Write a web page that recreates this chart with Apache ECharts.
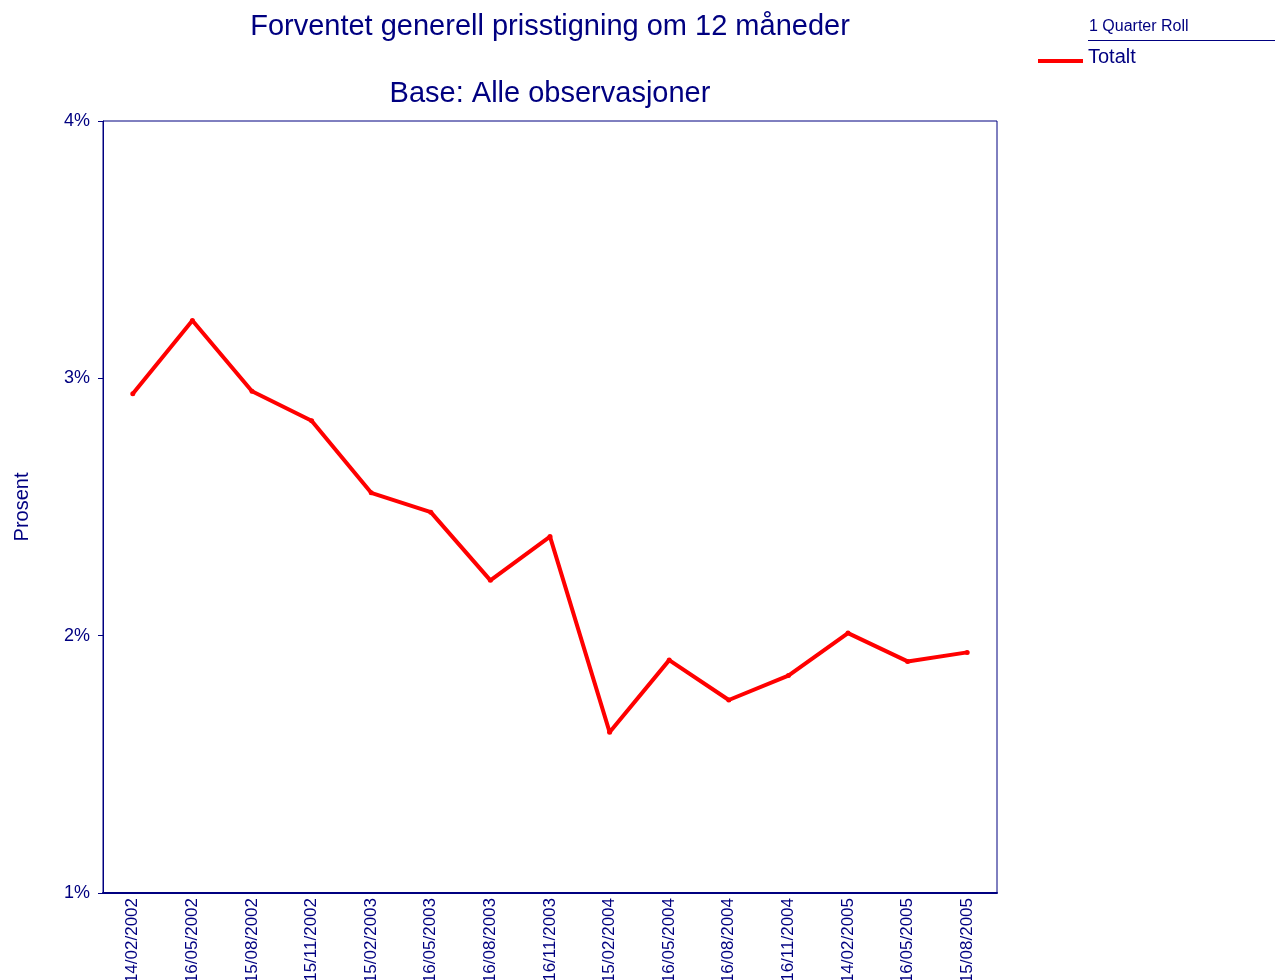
<!DOCTYPE html>
<html>
<head>
<meta charset="utf-8">
<script src="https://cdn.jsdelivr.net/npm/echarts@6/dist/echarts.min.js"></script>
<style>
  html, body { margin: 0; padding: 0; background: #fff; }
  #main { width: 1275px; height: 980px; }
</style>
</head>
<body>
<div id="main"></div>
<script>
// datoer (x-akse)
var dates = ['14/02/2002', '16/05/2002', '15/08/2002', '15/11/2002', '15/02/2003',
  '16/05/2003', '16/08/2003', '16/11/2003', '15/02/2004', '16/05/2004',
  '16/08/2004', '16/11/2004', '14/02/2005', '16/05/2005', '15/08/2005'];
// Totalt, prosent
var totalt = [2.94, 3.225, 2.95, 2.835, 2.555, 2.48, 2.215, 2.385, 1.625, 1.905,
  1.75, 1.845, 2.01, 1.9, 1.935];
var yTicks = [1, 2, 3, 4];

var navy = '#000080';
var font = 'Liberation Sans, Arial, sans-serif';

var chartDom = document.getElementById('main');
var myChart = echarts.init(chartDom);

var option = {
  backgroundColor: '#fff',
  animation: false,
  textStyle: { fontFamily: font },
  title: [
    {
      text: 'Forventet generell prisstigning om 12 måneder',
      left: 545, top: 7, textAlign: 'center',
      textStyle: { color: navy, fontSize: 29, fontWeight: 'normal', fontFamily: font },
    },
    {
      text: 'Base: Alle observasjoner',
      left: 545, top: 74, textAlign: 'center',
      textStyle: { color: navy, fontSize: 29, fontWeight: 'normal', fontFamily: font },
    },
  ],
  legend: {
    data: ['Totalt'],
    left: 1033, top: 42,
    itemWidth: 45, itemHeight: 4,
    icon: 'rect',
    formatter: '{a|{name}}',
    textStyle: {
      color: navy, fontSize: 20, fontFamily: font,
      rich: { a: { color: navy, fontSize: 20, fontFamily: font, padding: [0, 0, 8, 0] } },
    },
  },
  graphic: [
    {
      type: 'text', left: 1089, top: 19,
      style: { text: '1 Quarter Roll', fill: navy, fontSize: 16, fontFamily: font },
    },
    {
      type: 'line',
      shape: { x1: 1088, y1: 40.5, x2: 1275, y2: 40.5 },
      style: { stroke: navy, lineWidth: 1 },
    },
  ],
  grid: {
    left: 103, right: 278, top: 121, bottom: 87,
    containLabel: false,
    outerBoundsMode: 'none',
    show: true, borderColor: navy, borderWidth: 1,
  },
  xAxis: {
    type: 'category',
    data: dates,
    boundaryGap: true,
    axisLine: { lineStyle: { color: navy, width: 2 } },
    axisTick: { alignWithLabel: true, length: 5, lineStyle: { color: navy } },
    axisLabel: { rotate: 90, color: navy, fontSize: 17, margin: 5, fontFamily: font, padding: [0, 0, 6, 0] },
  },
  yAxis: {
    type: 'value',
    min: yTicks[0], max: yTicks[yTicks.length - 1], interval: 1,
    name: 'Prosent',
    nameLocation: 'middle',
    nameGap: 71,
    nameTextStyle: { color: navy, fontSize: 20, fontFamily: font },
    axisLine: { show: true, lineStyle: { color: navy, width: 1 } },
    axisTick: { show: true, length: 5, lineStyle: { color: navy } },
    axisLabel: {
      color: navy, fontSize: 18, margin: 12, formatter: '{value}%', fontFamily: font,
      padding: [4, 1, 0, 0],
    },
    splitLine: { show: false },
  },
  series: [
    {
      name: 'Totalt',
      type: 'line',
      data: totalt,
      color: '#ff0000',
      lineStyle: { width: 4 },
      symbol: 'circle',
      symbolSize: 5,
      itemStyle: { color: '#ff0000' },
    },
  ],
};
myChart.setOption(option);
</script>
</body>
</html>
